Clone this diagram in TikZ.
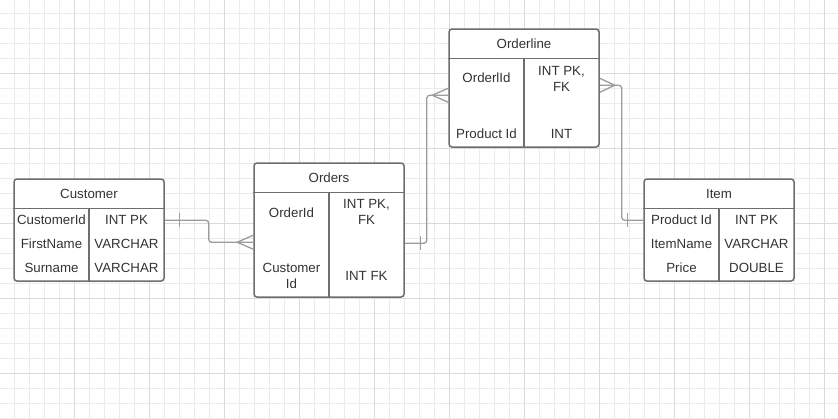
\documentclass[tikz,border=0pt]{standalone}
\usepackage{fontspec}
\setmainfont{Liberation Sans}
\usepackage{tikz}
\usetikzlibrary{positioning}

\definecolor{gridminor}{HTML}{EBEBEB}
\definecolor{gridmajor}{HTML}{DADADA}
\definecolor{boxline}{HTML}{6E6E6E}
\definecolor{relline}{HTML}{9C9C9C}
\definecolor{celltext}{HTML}{333333}

\tikzset{
  table/.style = {draw=boxline, line width=1.5pt, fill=white, rounded corners=3pt, minimum width=150pt, inner sep=0pt},
  sep/.style   = {draw=boxline, line width=1.5pt},
  cell/.style  = {text=celltext, font=\fontsize{13.3}{16}\selectfont, align=center, inner sep=0pt, yshift=-1.5pt},
  rel/.style   = {draw=relline, line width=1.3pt, rounded corners=3pt},
  foot/.style  = {draw=relline, line width=1.3pt},
}

\begin{document}
\begin{tikzpicture}[x=1pt, y=-1pt]

\useasboundingbox (0,0) rectangle (838,418);
\fill [white] (0,0) rectangle (838,418);

% grid
\foreach \x in {-1,14,...,839} \draw [gridminor, line width=0.9pt] (\x,0) -- (\x,418);
\foreach \y in {-2,13,...,418} \draw [gridminor, line width=0.9pt] (0,\y) -- (838,\y);
\foreach \x in {74,149,...,839} \draw [gridmajor, line width=0.9pt] (\x,0) -- (\x,418);
\foreach \y in {73,148,...,418} \draw [gridmajor, line width=0.9pt] (0,\y) -- (838,\y);

% tables
\node [table, minimum height=102pt] (cust)  at (89,230)  {};
\node [table, minimum height=134pt] (ord)   at (329,230) {};
\node [table, minimum height=118pt] (oline) at (524,88)  {};
\node [table, minimum height=102pt] (item)  at (719,230) {};

\foreach \t in {cust, ord, oline, item} {
  \path [sep] ([yshift=-30pt]\t.north west) -- ([yshift=-30pt]\t.north east);
  \path [sep] ([yshift=-30pt]\t.north)      -- (\t.south);
}

\node [cell] (custt)  at ([yshift=-14pt]cust.north)                  {Customer};
\node [cell] (cust1)  at ([xshift=-37.5pt, yshift=-40pt]cust.north)  {CustomerId};
\node [cell] (cust1t) at ([xshift= 37.5pt, yshift=-40pt]cust.north)  {INT PK};
\node [cell] (cust2)  at ([xshift=-37.5pt, yshift=-64pt]cust.north)  {FirstName};
\node [cell] (cust2t) at ([xshift= 37.5pt, yshift=-64pt]cust.north)  {VARCHAR};
\node [cell] (cust3)  at ([xshift=-37.5pt, yshift=-88pt]cust.north)  {Surname};
\node [cell] (cust3t) at ([xshift= 37.5pt, yshift=-88pt]cust.north)  {VARCHAR};

\node [cell] (ordt)   at ([yshift=-14pt]ord.north)                   {Orders};
\node [cell] (ord1)   at ([xshift=-37.5pt, yshift=-49pt]ord.north)   {OrderId};
\node [cell] (ord1t)  at ([xshift= 37.5pt, yshift=-48pt]ord.north)   {INT PK,\\FK};
\node [cell] (ord2)   at ([xshift=-37.5pt, yshift=-112pt]ord.north)  {Customer\\Id};
\node [cell] (ord2t)  at ([xshift= 37.5pt, yshift=-112pt]ord.north)  {INT FK};

\node [cell] (olinet) at ([yshift=-14pt]oline.north)                 {Orderline};
\node [cell] (oline1) at ([xshift=-37.5pt, yshift=-48pt]oline.north) {OrderlId};
\node [cell] (olin1t) at ([xshift= 37.5pt, yshift=-49pt]oline.north) {INT PK,\\FK};
\node [cell] (oline2) at ([xshift=-37.5pt, yshift=-104pt]oline.north) {Product Id};
\node [cell] (olin2t) at ([xshift= 37.5pt, yshift=-104pt]oline.north) {INT};

\node [cell] (itemt)  at ([yshift=-14pt]item.north)                  {Item};
\node [cell] (item1)  at ([xshift=-37.5pt, yshift=-40pt]item.north)  {Product Id};
\node [cell] (item1t) at ([xshift= 37.5pt, yshift=-40pt]item.north)  {INT PK};
\node [cell] (item2)  at ([xshift=-37.5pt, yshift=-64pt]item.north)  {ItemName};
\node [cell] (item2t) at ([xshift= 37.5pt, yshift=-64pt]item.north)  {VARCHAR};
\node [cell] (item3)  at ([xshift=-37.5pt, yshift=-88pt]item.north)  {Price};
\node [cell] (item3t) at ([xshift= 37.5pt, yshift=-88pt]item.north)  {DOUBLE};

% relations
\coordinate (r1a) at ([yshift=-42pt]cust.north east);
\coordinate (r1b) at ([yshift=-80pt]ord.north west);
\coordinate (r2a) at ([yshift=-81pt]ord.north east);
\coordinate (r2b) at ([yshift=-67pt]oline.north west);
\coordinate (r3a) at ([yshift=-57pt]oline.north east);
\coordinate (r3b) at ([yshift=-42pt]item.north west);

\path [rel] (r1a) -- ++(44,0) |- (r1b);
\path [foot] ([xshift=15pt, yshift=7pt]r1a) -- ([xshift=15pt, yshift=-7pt]r1a);
\path [foot] ([yshift=7pt]r1b) -- ([xshift=-16pt]r1b) -- ([yshift=-7pt]r1b);

\path [rel] (r2a) -- ++(22,0) |- (r2b);
\path [foot] ([xshift=16pt, yshift=7pt]r2a) -- ([xshift=16pt, yshift=-7pt]r2a);
\path [foot] ([yshift=7pt]r2b) -- ([xshift=-16pt]r2b) -- ([yshift=-7pt]r2b);

\path [rel] (r3a) -- ++(22,0) |- (r3b);
\path [foot] ([yshift=7pt]r3a) -- ([xshift=15pt]r3a) -- ([yshift=-7pt]r3a);
\path [foot] ([xshift=-16pt, yshift=7pt]r3b) -- ([xshift=-16pt, yshift=-7pt]r3b);

\end{tikzpicture}
\end{document}
